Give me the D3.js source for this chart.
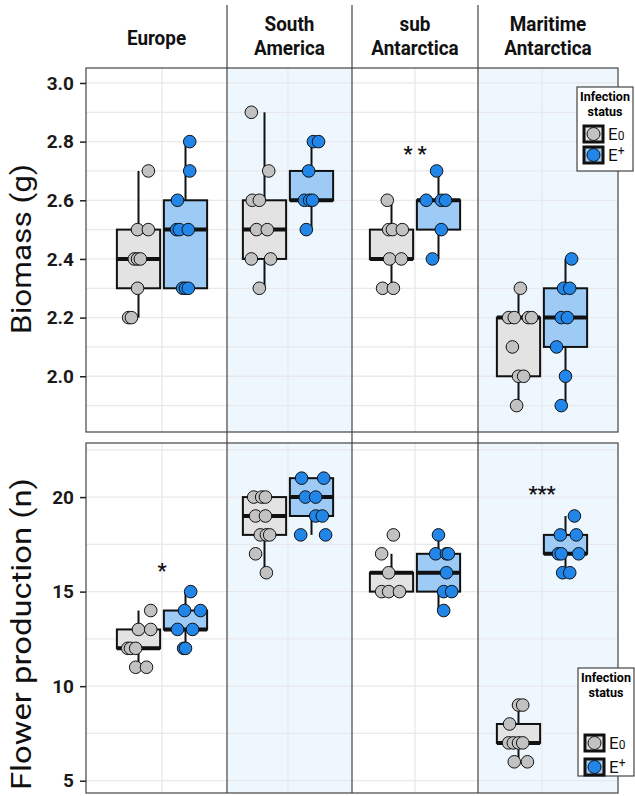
<!DOCTYPE html>
<html><head><meta charset="utf-8">
<script src="https://cdn.jsdelivr.net/npm/d3@7"></script>
<style>body{margin:0;background:#fff}svg{display:block}</style>
</head><body>
<script>
// ---------- DATA ----------
const regions = ["Europe", "South America", "sub Antarctica", "Maritime Antarctica"];
const regionLines = [["Europe"], ["South", "America"], ["sub", "Antarctica"], ["Maritime", "Antarctica"]];
const status = ["E0", "E+"];
const shadedRegions = ["South America", "Maritime Antarctica"];

const biomassTicks = [2.0, 2.2, 2.4, 2.6, 2.8, 3.0];
const flowerTicks = [5, 10, 15, 20];

// box stats: [q1, median, q3, whiskerLow, whiskerHigh] per region, per status
const biomassBoxE0 = [[2.3,2.4,2.5,2.2,2.7],[2.4,2.5,2.6,2.3,2.9],[2.4,2.4,2.5,2.3,2.6],[2.0,2.2,2.2,1.9,2.3]];
const biomassBoxEp = [[2.3,2.5,2.6,2.3,2.8],[2.6,2.6,2.7,2.5,2.8],[2.5,2.6,2.6,2.4,2.7],[2.1,2.2,2.3,1.9,2.4]];
const flowerBoxE0 = [[12,12,13,11,14],[18,19,20,16,20],[15,16,16,15,17],[7,7,8,6,9]];
const flowerBoxEp = [[13,13,14,12,15],[19,20,21,18,21],[15,16,17,14,18],[17,17,18,16,19]];

// observations: [jitter (category units), value]
const biomassPtsE0 = [
  [[0.21,2.7],[-0.02,2.5],[0.21,2.5],[-0.09,2.4],[-0.02,2.4],[0.04,2.4],[-0.02,2.3],[-0.21,2.2],[-0.15,2.2]],
  [[-0.28,2.9],[0.09,2.7],[-0.26,2.6],[-0.11,2.6],[-0.17,2.5],[0.06,2.5],[-0.28,2.4],[0.13,2.4],[-0.11,2.3]],
  [[-0.09,2.6],[-0.06,2.5],[0.02,2.5],[0.23,2.5],[-0.04,2.4],[0.21,2.4],[-0.19,2.3],[0.04,2.3]],
  [[0.04,2.3],[-0.21,2.2],[-0.09,2.2],[0.21,2.2],[0.28,2.2],[-0.13,2.1],[0.0,2.0],[0.11,2.0],[-0.04,1.9]]
];
const biomassPtsEp = [
  [[0.09,2.8],[0.09,2.7],[-0.17,2.6],[-0.19,2.5],[-0.13,2.5],[0.06,2.5],[-0.06,2.3],[0.0,2.3],[0.06,2.3]],
  [[0.04,2.8],[0.15,2.8],[-0.06,2.7],[-0.15,2.6],[-0.04,2.6],[0.02,2.6],[-0.11,2.5]],
  [[-0.04,2.7],[-0.26,2.6],[0.06,2.6],[0.15,2.6],[0.06,2.5],[-0.13,2.4]],
  [[0.13,2.4],[-0.04,2.3],[0.09,2.3],[-0.09,2.2],[0.04,2.2],[-0.19,2.1],[0.0,2.0],[-0.09,1.9]]
];
const flowerPtsE0 = [
  [[0.26,14],[0.0,13],[0.26,13],[-0.23,12],[-0.17,12],[-0.06,12],[-0.06,11],[0.17,11]],
  [[-0.23,20],[-0.06,20],[0.02,20],[-0.19,19],[0.02,19],[-0.09,18],[0.04,18],[0.11,18],[-0.19,17],[0.04,16]],
  [[0.04,18],[-0.21,17],[-0.06,16],[-0.21,15],[-0.06,15],[0.17,15]],
  [[0.0,9],[0.09,9],[-0.19,8],[-0.21,7],[-0.11,7],[0.0,7],[0.09,7],[-0.09,6],[0.19,6]]
];
const flowerPtsEp = [
  [[0.11,15],[-0.02,14],[0.32,14],[-0.17,13],[0.15,13],[-0.04,12],[0.0,12]],
  [[-0.21,21],[0.26,21],[-0.13,20],[0.09,20],[0.09,19],[0.23,19],[-0.23,18],[0.3,18]],
  [[0.0,18],[-0.06,17],[0.17,17],[0.21,17],[0.17,16],[0.11,15],[0.28,15],[0.11,14]],
  [[0.19,19],[-0.11,18],[0.23,18],[-0.15,17],[-0.09,17],[0.28,17],[-0.06,16],[0.09,16]]
];

// significance labels: [region index, value, label]
const biomassSig = [[2, 2.77, "* *"]];
const flowerSig = [[0, 16.3, "*"], [3, 20.4, "***"]];

// ---------- LAYOUT ----------
const W = 635, H = 796;
const FONT = "Roboto, 'DejaVu Sans', sans-serif";
const panelEdges = [86, 227, 352, 478, 618];
const panelCenters = [162, 288, 415, 542];
const unit = 47;       // px per category unit
const boxW = 0.92;     // box width in category units

const colE0 = "#c2c2c2", colEp = "#2186e8";
const boxE0 = "#e3e3e3", boxEp = "#9dcbf6";
const shade = "#eef7fe", grid = "#e9e9ec";

const svg = d3.select("body").append("svg").attr("width", W).attr("height", H)
  .style("font-family", FONT);

function xScale(i) {
  const c = panelCenters[i];
  return d3.scaleLinear().domain([1, 2]).range([c - unit / 2, c + unit / 2]);
}

function drawPanel(opt) {
  const y = d3.scaleLinear().domain(opt.domain).range([opt.bottom, opt.top]);
  const g = svg.append("g");
  regions.forEach((r, i) => {
    g.append("rect").attr("x", panelEdges[i]).attr("y", opt.top)
      .attr("width", panelEdges[i + 1] - panelEdges[i]).attr("height", opt.bottom - opt.top)
      .attr("fill", shadedRegions.includes(r) ? shade : "#fff");
  });
  opt.grid.forEach(v => {
    g.append("line").attr("x1", panelEdges[0]).attr("x2", panelEdges[4])
      .attr("y1", y(v)).attr("y2", y(v)).attr("stroke", grid).attr("stroke-width", 1.3);
  });
  regions.forEach((r, i) => {
    const x = xScale(i);
    g.append("line").attr("x1", x(1.5)).attr("x2", x(1.5))
      .attr("y1", opt.top).attr("y2", opt.bottom).attr("stroke", grid).attr("stroke-width", 1.3);
  });
  regions.forEach((r, i) => {
    const x = xScale(i);
    [[opt.boxE0[i], opt.ptsE0[i], 1, boxE0, colE0], [opt.boxEp[i], opt.ptsEp[i], 2, boxEp, colEp]]
      .forEach(([b, pts, pos, bf, pc]) => {
        const [q1, med, q3, lo, hi] = b;
        const cx = x(pos), hw = (x(pos + boxW / 2) - x(pos));
        g.append("line").attr("x1", cx).attr("x2", cx).attr("y1", y(q3)).attr("y2", y(hi))
          .attr("stroke", "#111").attr("stroke-width", 2);
        g.append("line").attr("x1", cx).attr("x2", cx).attr("y1", y(q1)).attr("y2", y(lo))
          .attr("stroke", "#111").attr("stroke-width", 2);
        g.append("rect").attr("x", cx - hw).attr("y", y(q3)).attr("width", 2 * hw)
          .attr("height", Math.max(0.01, y(q1) - y(q3)))
          .attr("fill", bf).attr("stroke", "#111").attr("stroke-width", 2);
        g.append("line").attr("x1", cx - hw).attr("x2", cx + hw).attr("y1", y(med)).attr("y2", y(med))
          .attr("stroke", "#111").attr("stroke-width", 4);
        pts.forEach(([j, v]) => {
          g.append("circle").attr("cx", x(pos + j)).attr("cy", y(v)).attr("r", 6.3)
            .attr("fill", pc).attr("stroke", "#111").attr("stroke-width", 1);
        });
      });
  });
  opt.sig.forEach(([i, v, lab]) => {
    g.append("text").attr("x", xScale(i)(1.5)).attr("y", y(v)).attr("dy", "0.55em")
      .attr("text-anchor", "middle").attr("font-size", 20).attr("font-weight", "bold")
      .attr("fill", "#111").text(lab);
  });
  [1, 2, 3].forEach(k => {
    g.append("line").attr("x1", panelEdges[k]).attr("x2", panelEdges[k])
      .attr("y1", opt.divTop).attr("y2", opt.bottom).attr("stroke", "#444").attr("stroke-width", 1.2);
  });
  g.append("rect").attr("x", panelEdges[0]).attr("y", opt.top)
    .attr("width", panelEdges[4] - panelEdges[0]).attr("height", opt.bottom - opt.top)
    .attr("fill", "none").attr("stroke", "#444").attr("stroke-width", 1.2);
  const ax = g.append("g").attr("transform", `translate(${panelEdges[0]},0)`)
    .call(d3.axisLeft(y).tickValues(opt.ticks).tickFormat(opt.fmt).tickSize(6).tickPadding(6));
  ax.select(".domain").remove();
  ax.selectAll(".tick line").attr("stroke", "#222").attr("stroke-width", 1.5);
  ax.selectAll(".tick text").attr("font-size", 19).attr("font-weight", "bold")
    .attr("fill", "#1a1a1a").style("font-family", FONT);
  svg.append("text").attr("transform", `translate(31,${opt.titleY}) rotate(-90)`)
    .attr("text-anchor", "middle").attr("font-size", 27).attr("fill", "#111")
    .attr("textLength", opt.titleLen).attr("lengthAdjust", "spacingAndGlyphs").text(opt.title);
  const L = opt.legend;
  const lg = svg.append("g").attr("transform", `translate(${L.x},${L.y})`);
  lg.append("rect").attr("width", 56).attr("height", L.h).attr("fill", "#fff")
    .attr("stroke", "#444").attr("stroke-width", 1.2);
  lg.append("text").attr("x", 28).attr("y", 14).attr("text-anchor", "middle")
    .attr("font-size", 12.5).attr("font-weight", "bold").text("Infection");
  lg.append("text").attr("x", 28).attr("y", 29).attr("text-anchor", "middle")
    .attr("font-size", 12.5).attr("font-weight", "bold").text("status");
  status.forEach((s, k) => {
    const yy = L.row0 + k * L.rowStep;
    lg.append("rect").attr("x", 7).attr("y", yy - 8).attr("width", 19).attr("height", 16)
      .attr("fill", k ? boxEp : boxE0).attr("stroke", "#111").attr("stroke-width", 3);
    lg.append("circle").attr("cx", 16.5).attr("cy", yy).attr("r", 6.5)
      .attr("fill", k ? colEp : colE0).attr("stroke", "#111").attr("stroke-width", 1);
    const t = lg.append("text").attr("x", 31).attr("y", yy + 6).attr("font-size", 17)
      .attr("fill", "#111");
    t.append("tspan").text("E");
    t.append("tspan").attr("font-size", 12).attr("dy", k ? -6 : 0)
      .text(k ? "+" : "0");
  });
}

// headers
regionLines.forEach((lines, i) => {
  const cx = (panelEdges[i] + panelEdges[i + 1]) / 2;
  const hg = svg.append("g").attr("transform", `translate(${cx},0) scale(0.9,1)`);
  const t = hg.append("text").attr("text-anchor", "middle").attr("font-size", 21)
    .attr("font-weight", "bold").attr("fill", "#111");
  if (lines.length === 1) {
    t.append("tspan").attr("x", 0).attr("y", 45).text(lines[0]);
  } else {
    t.append("tspan").attr("x", 0).attr("y", 31).text(lines[0]);
    t.append("tspan").attr("x", 0).attr("y", 55).text(lines[1]);
  }
});

drawPanel({
  domain: [1.81, 3.051], top: 68, bottom: 432, divTop: 5,
  grid: d3.range(19, 31).map(d => d / 10), ticks: biomassTicks, fmt: d3.format(".1f"),
  boxE0: biomassBoxE0, boxEp: biomassBoxEp, ptsE0: biomassPtsE0, ptsEp: biomassPtsEp,
  sig: biomassSig, title: "Biomass (g)", titleY: 249, titleLen: 170,
  legend: { x: 577, y: 87, h: 84, row0: 47, rowStep: 21 }
});
drawPanel({
  domain: [4.35, 22.86], top: 443, bottom: 793, divTop: 432,
  grid: [5, 7.5, 10, 12.5, 15, 17.5, 20, 22.5], ticks: flowerTicks, fmt: d3.format("d"),
  boxE0: flowerBoxE0, boxEp: flowerBoxEp, ptsE0: flowerPtsE0, ptsEp: flowerPtsEp,
  sig: flowerSig, title: "Flower production (n)", titleY: 634, titleLen: 312,
  legend: { x: 578, y: 668, h: 108, row0: 75, rowStep: 24 }
});
</script>
</body></html>
